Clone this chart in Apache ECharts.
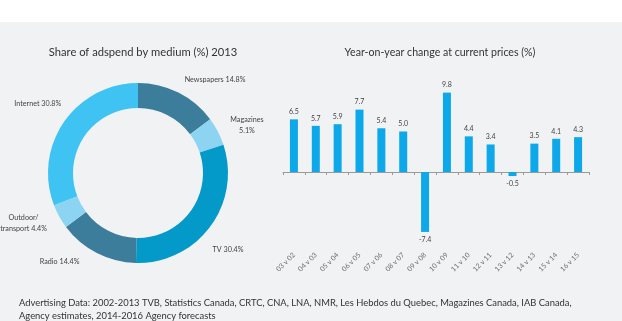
<!DOCTYPE html>
<html>
<head>
<meta charset="utf-8">
<script src="https://cdn.jsdelivr.net/npm/echarts@6/dist/echarts.min.js"></script>
<style>
  html, body { margin: 0; padding: 0; background: #f1f2f4; }
  #band { position: absolute; left: 0; top: 0; width: 622px; height: 22px; background: #ffffff; }
  #chart { position: absolute; left: 0; top: 0; width: 622px; height: 321px; }
</style>
</head>
<body>
<div id="band"></div>
<div id="chart"></div>
<script>
// Share of adspend by medium, 2013 (%)
const media = ['Newspapers', 'Magazines', 'TV', 'Radio', 'Outdoor/\ntransport', 'Internet'];
const shares = [14.8, 5.1, 30.4, 14.4, 4.4, 30.8];
const mediaColors = ['#3b7d9a', '#8dd4f2', '#0399c9', '#3b7d9a', '#8dd4f2', '#3fc3f2'];

// Year-on-year change at current prices (%)
const periods = ['03 v 02', '04 v 03', '05 v 04', '06 v 05', '07 v 06', '08 v 07', '09 v 08',
                 '10 v 09', '11 v 10', '12 v 11', '13 v 12', '14 v 13', '15 v 14', '16 v 15'];
const changes = [6.5, 5.7, 5.9, 7.7, 5.4, 5.0, -7.4, 9.8, 4.4, 3.4, -0.5, 3.5, 4.1, 4.3];

const FONT = 'Lato, "Open Sans", sans-serif';
const PIE_LABEL_SIZE = 7.2;

// small nudges so slice labels sit clear of each other
const labelNudge = { 'TV': [-9, 15], 'Radio': [-11, -4], 'Internet': [9, -10] };

// two-line labels are centred line by line
function stackedLabel(p) {
  const text = p.name === 'Magazines'
    ? 'Magazines\n' + p.value + '%'
    : p.name + ' ' + p.value + '%';
  return text.split('\n').map(l => '{c|' + l + '}').join('\n');
}

const pieData = media.map((name, i) => {
  const item = { name: name, value: shares[i], itemStyle: { color: mediaColors[i] } };
  if (labelNudge[name]) item.label = { offset: labelNudge[name] };
  if (name.indexOf('\n') >= 0 || name === 'Magazines') {
    item.label = Object.assign(item.label || {}, {
      formatter: stackedLabel,
      rich: { c: { align: 'center', fontSize: PIE_LABEL_SIZE, color: '#444', fontFamily: FONT, lineHeight: 10.5 } }
    });
  }
  return item;
});

const chart = echarts.init(document.getElementById('chart'), null, { renderer: 'canvas' });

chart.setOption({
  backgroundColor: 'transparent',
  animation: false,
  title: [
    { text: 'Share of adspend by medium (%) 2013', left: 138, top: 42, textAlign: 'center',
      textStyle: { fontFamily: FONT, fontSize: 11.2, fontWeight: 'normal', color: '#333' } },
    { text: 'Year-on-year change at current prices (%)', left: 435, top: 42, textAlign: 'center',
      textStyle: { fontFamily: FONT, fontSize: 10.6, fontWeight: 'normal', color: '#333' } },
    { text: 'Advertising Data: 2002-2013 TVB, Statistics Canada, CRTC, CNA, LNA, NMR, Les Hebdos du Quebec, Magazines Canada, IAB Canada,\nAgency estimates, 2014-2016 Agency forecasts',
      left: 14, top: 291,
      textStyle: { fontFamily: FONT, fontSize: 9.4, fontWeight: 'normal', color: '#333', lineHeight: 13.5 } }
  ],
  grid: { left: 283, right: 33, top: 91, bottom: 84.2, containLabel: false, outerBoundsMode: 'none' },
  xAxis: {
    type: 'category',
    data: periods,
    axisLine: { onZero: true, lineStyle: { color: '#9a9a9a', width: 1 } },
    axisTick: { show: true, length: 3, lineStyle: { color: '#9a9a9a' } },
    axisLabel: { rotate: 45, margin: 17, fontSize: 7, color: '#6e6e6e', fontFamily: FONT, interval: 0 }
  },
  yAxis: { type: 'value', min: -8, max: 10, show: false, splitLine: { show: false } },
  series: [
    {
      type: 'pie',
      center: [138, 173],
      radius: [65, 90],
      startAngle: 90,
      clockwise: true,
      avoidLabelOverlap: false,
      silent: true,
      label: {
        show: true,
        position: 'outside',
        formatter: '{b} {c}%',
        fontSize: PIE_LABEL_SIZE,
        color: '#444',
        fontFamily: FONT,
        distanceToLabelLine: 0
      },
      labelLine: { show: false, length: 14, length2: 0 },
      data: pieData
    },
    {
      type: 'bar',
      data: changes,
      barWidth: 8,
      itemStyle: { color: '#0ca8e9' },
      label: {
        show: true,
        position: 'outside',
        distance: 4,
        fontSize: 7,
        color: '#444',
        fontFamily: FONT,
        formatter: p => p.value.toFixed(1)
      }
    }
  ]
});
</script>
</body>
</html>
